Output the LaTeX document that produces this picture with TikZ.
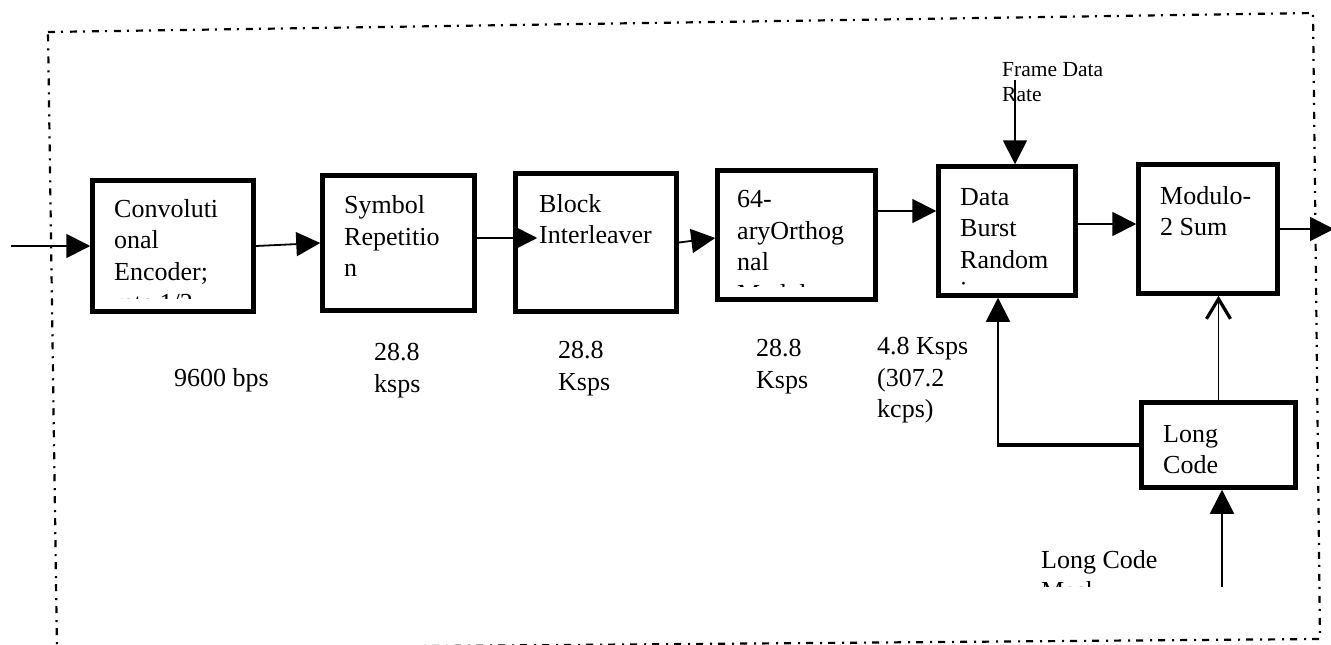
\documentclass[tikz,border=0pt]{standalone}
\usepackage{fontspec}
\setmainfont{Liberation Serif}
\usetikzlibrary{arrows.meta}
\begin{document}
\begin{tikzpicture}[x=1pt,y=-1pt,
  box/.style={draw, line width=4.5pt, inner sep=0pt},
  txt/.style={inner sep=0pt, anchor=north west, align=left, font=\fontsize{26}{31.5}\selectfont},
  small/.style={inner sep=0pt, anchor=north west, align=left, font=\fontsize{21.5}{25}\selectfont},
  conn/.style={line width=1.8pt, -{Triangle[length=24pt,width=24pt]}},
  barb/.style={line width=1.8pt, -{Straight Barb[length=20pt,width=24pt,line width=3.2pt]}},
  frameline/.style={line width=2.2pt, dash pattern=on 7pt off 6pt on 2pt off 7pt}
]
\useasboundingbox (0,0) rectangle (1331,645);
\clip (0,0) rectangle (1331,645);
\fill[white] (0,0) rectangle (1331,645);
% outer dash-dot frame
\draw[frameline] (48,32) -- (1313,13) -- (1320,639) -- (57,649) -- cycle;

% boxes
\node[box, minimum width=161pt, minimum height=131pt] (conv) at (173,246) {};
\node[box, minimum width=152pt, minimum height=135pt] (sr) at (398.5,243) {};
\node[box, minimum width=161pt, minimum height=138pt] (bi) at (596,242.5) {};
\node[box, minimum width=158pt, minimum height=129pt] (oa) at (796.5,235) {};
\node[box, minimum width=137pt, minimum height=129pt] (dbr) at (1007,231) {};
\node[box, minimum width=139pt, minimum height=129pt] (mod) at (1208,229) {};
\node[box, minimum width=154pt, minimum height=85pt] (lc) at (1218.5,445) {};

% box texts (clipped as in the original text boxes)
\begin{scope}
  \clip (90,150) rectangle (256,298);
  \node[txt] (convt) at (114,199) {Convoluti\\onal\\Encoder;\\rate 1/2};
\end{scope}
\node[txt] (srt) at (344,195.5) {Symbol\\Repetitio\\n};
\node[txt] (bit) at (539,194.2) {Block\\Interleaver};
\begin{scope}
  \clip (715,150) rectangle (878,286.5);
  \node[txt] (oat) at (737,190.4) {64-\\aryOrthog\\nal\\Modulator};
\end{scope}
\begin{scope}
  \clip (936,150) rectangle (1078,284.8);
  \node[txt] (dbrt) at (960,187.8) {Data\\Burst\\Random\\izer};
\end{scope}
\node[txt] (modt) at (1160,186.2) {Modulo-\\2 Sum};
\node[txt] (lct) at (1163,424.8) {Long\\Code};
\begin{scope}
  \clip (1030,540) rectangle (1200,586);
  \node[txt] (mask) at (1041,550.2) {Long Code\\Mask};
\end{scope}

% rate labels
\node[txt] (r1) at (174,368.4) {9600 bps};
\node[txt] (r2) at (374,343.4) {28.8\\ksps};
\node[txt] (r3) at (558,341.4) {28.8\\Ksps};
\node[txt] (r4) at (756,339.4) {28.8\\Ksps};
\node[txt] (r5) at (877,337.2) {4.8 Ksps\\(307.2\\kcps)};
\node[small] (fdrt) at (1002,61.8) {Frame Data\\Rate};

% connectors
\coordinate (in) at (11,246);
\draw[conn] (in) -- (conv.west);
\draw[conn] (conv.east) -- (sr.west);
\draw[conn] ([yshift=5pt]sr.east) -- ([xshift=24pt,yshift=4.5pt]bi.west);
\draw[conn] (bi.east) -- ([yshift=-3pt]oa.west);
\draw[conn] ([yshift=24pt]oa.east) -- ([yshift=20pt]dbr.west);
\draw[conn] ([yshift=7pt]dbr.east) -- ([yshift=5pt]mod.west);
\coordinate (out) at (1334,229);
\draw[conn] (mod.east) -- (out);
\coordinate (fdr) at (1015,80);
\draw[conn] (fdr) -- (fdr |- dbr.north);
\coordinate (corner) at (998,445);
\draw[line width=4pt] (lc.west) -- ([xshift=-0.9pt]corner);
\draw[conn] ([yshift=-2pt]corner) -- (corner |- dbr.south);
\draw[barb] (lc.north) -- (lc.north |- mod.south);
\coordinate (maskin) at (1222,587);
\draw[conn] (maskin) -- (maskin |- lc.south);
\end{tikzpicture}
\end{document}
